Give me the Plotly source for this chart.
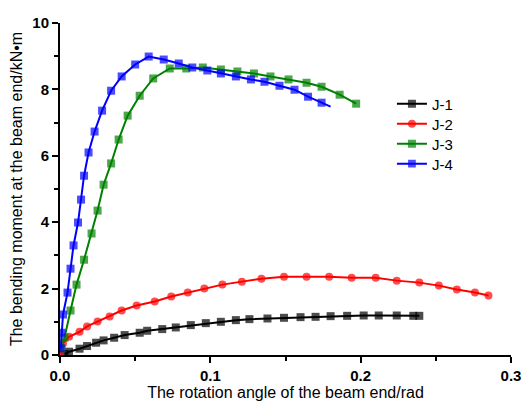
import plotly.graph_objects as go

j1_x = [0.003, 0.006, 0.013, 0.018, 0.024, 0.029, 0.036, 0.043, 0.053, 0.058, 0.068, 0.077, 0.087, 0.097,
        0.107, 0.117, 0.126, 0.138, 0.149, 0.160, 0.170, 0.180, 0.191, 0.202, 0.212, 0.224, 0.235, 0.239]
j1_y = [0.03, 0.10, 0.19, 0.27, 0.37, 0.44, 0.52, 0.60, 0.67, 0.73, 0.78, 0.83, 0.90, 0.96,
        1.00, 1.05, 1.08, 1.10, 1.12, 1.14, 1.15, 1.17, 1.18, 1.19, 1.19, 1.19, 1.18, 1.18]

j2_x = [0.000, 0.002, 0.006, 0.013, 0.018, 0.025, 0.033, 0.041, 0.051, 0.063, 0.074, 0.085, 0.096, 0.108,
        0.121, 0.134, 0.149, 0.164, 0.179, 0.194, 0.210, 0.224, 0.239, 0.252, 0.264, 0.276, 0.285]
j2_y = [0.05, 0.35, 0.55, 0.70, 0.86, 1.01, 1.16, 1.34, 1.49, 1.61, 1.76, 1.88, 2.00, 2.12,
        2.21, 2.30, 2.36, 2.36, 2.36, 2.33, 2.33, 2.24, 2.18, 2.09, 1.97, 1.88, 1.79]

j3_x = [0.001, 0.003, 0.007, 0.011, 0.016, 0.021, 0.025, 0.029, 0.034, 0.039, 0.045, 0.053, 0.062, 0.073,
        0.084, 0.095, 0.107, 0.118, 0.129, 0.140, 0.152, 0.164, 0.174, 0.186, 0.197]
j3_y = [0.20, 0.52, 1.34, 2.12, 2.87, 3.66, 4.35, 5.13, 5.77, 6.49, 7.21, 7.81, 8.33, 8.63,
        8.63, 8.66, 8.60, 8.54, 8.48, 8.39, 8.30, 8.20, 8.08, 7.84, 7.57]

j4_x = [0.0005, 0.001, 0.002, 0.005, 0.007, 0.009, 0.012, 0.014, 0.016, 0.019, 0.023, 0.028, 0.034, 0.041,
        0.050, 0.059, 0.069, 0.079, 0.088, 0.098, 0.107, 0.117, 0.127, 0.136, 0.146, 0.156, 0.165, 0.174, 0.180]
j4_y = [0.20, 0.67, 1.22, 1.88, 2.60, 3.30, 3.99, 4.68, 5.40, 6.10, 6.73, 7.36, 7.96, 8.39,
        8.75, 8.99, 8.90, 8.78, 8.66, 8.57, 8.48, 8.39, 8.30, 8.23, 8.11, 7.99, 7.78, 7.60, 7.48]

names = ["J-1", "J-2", "J-3", "J-4"]
colors = ["#000000", "#ff0000", "#008000", "#0000ff"]
symbols = ["square", "circle", "square", "square"]

fig = go.Figure()
series = [(j1_x, j1_y), (j2_x, j2_y), (j3_x, j3_y), (j4_x, j4_y)]
legend_ids = ["legend", "legend2", "legend3", "legend4"]
for i, (xs, ys) in enumerate(series):
    sizes = [8] * len(xs)
    if i == 3:
        sizes[-1] = 0
    fig.add_trace(go.Scatter(
        x=xs, y=ys, name=names[i], mode="lines+markers", legend=legend_ids[i],
        line=dict(color=colors[i], width=2),
        marker=dict(symbol=symbols[i], size=sizes, color=colors[i], line=dict(width=0)),
    ))

title_font = dict(family="Liberation Sans, Arial", size=16, color="black")
tick_font = dict(family="Liberation Sans, Arial", size=15, color="black", weight="bold")
leg_font = dict(family="Liberation Sans, Arial", size=15, color="black")

legend_layout = {}
for k, lid in enumerate(legend_ids):
    legend_layout[lid] = dict(x=0.736, y=0.756 - k * 0.0602, xanchor="left", yanchor="middle",
                              font=leg_font, bgcolor="rgba(0,0,0,0)", itemwidth=30)

fig.update_layout(
    width=525, height=401,
    margin=dict(l=60, r=14, t=23, b=46),
    plot_bgcolor="white", paper_bgcolor="white",
    showlegend=True,
    xaxis=dict(range=[0, 0.3], tickvals=[0, 0.1, 0.2, 0.3], ticktext=["0.0", "0.1", "0.2", "0.3"],
               automargin=False,
               showgrid=False, zeroline=False, showline=True, linecolor="black", linewidth=2,
               ticks="outside", ticklen=6, tickwidth=2, tickcolor="black",
               minor=dict(tickvals=[0.05, 0.15, 0.25], ticks="outside", ticklen=4, tickwidth=2, tickcolor="black"),
               tickfont=tick_font,
               title=dict(text="The rotation angle of the beam end/rad", font=title_font, standoff=2)),
    yaxis=dict(range=[0, 10], tickvals=[0, 2, 4, 6, 8, 10],
               automargin=False,
               showgrid=False, zeroline=False, showline=True, linecolor="black", linewidth=2,
               ticks="outside", ticklen=6, tickwidth=2, tickcolor="black",
               minor=dict(tickvals=[1, 3, 5, 7, 9], ticks="outside", ticklen=4, tickwidth=2, tickcolor="black"),
               tickfont=tick_font,
               title=dict(text="The bending moment at the beam end/kN•m", font=title_font, standoff=6)),
    **legend_layout,
)
fig.write_html("out.html")
